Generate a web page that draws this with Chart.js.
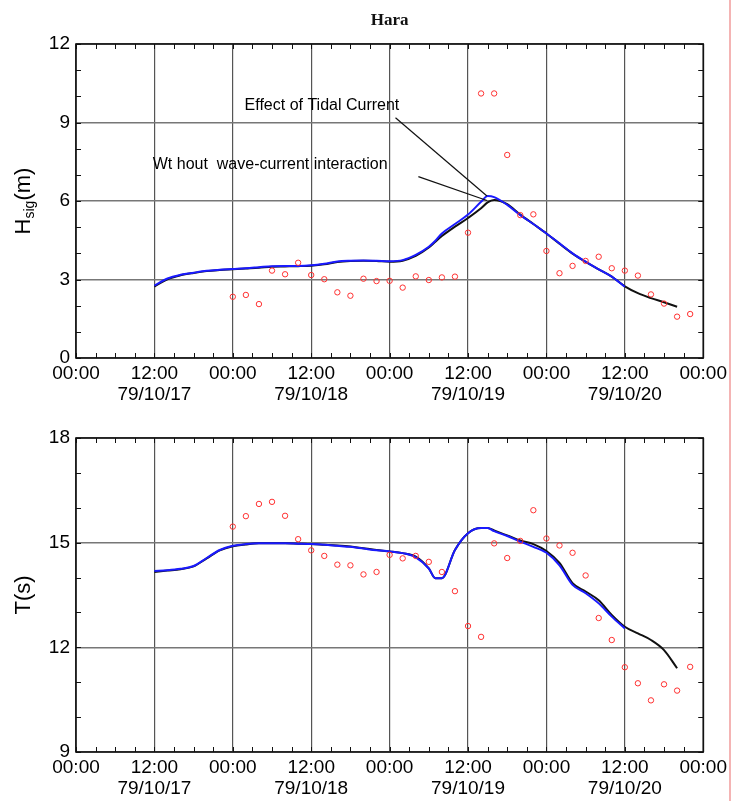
<!DOCTYPE html>
<html>
<head>
<meta charset="utf-8">
<script src="https://cdn.jsdelivr.net/npm/chart.js@4"></script>
<style>
  body { margin: 0; background: #fff; }
  #wrap { position: relative; width: 732px; height: 801px; }
  #c1 { position: absolute; left: 0; top: 0; }
  #c2 { position: absolute; left: 0; top: 405px; }
  #edge { position: absolute; left: 729px; top: 0; width: 2px; height: 801px; background: #f4b4b4; }
</style>
</head>
<body>
<div id="wrap">
  <canvas id="c1" width="732" height="405"></canvas>
  <canvas id="c2" width="732" height="396"></canvas>
  <div id="edge"></div>
</div>
<script>
'use strict';

// time axis: hours after 79/10/17 00:00
var tickHours = [0, 12, 24, 36, 48, 60, 72, 84, 96];
var tickTimes = ['00:00', '12:00', '00:00', '12:00', '00:00', '12:00', '00:00', '12:00', '00:00'];
var tickDates = ['', '79/10/17', '', '79/10/18', '', '79/10/19', '', '79/10/20', ''];

// observations (every 2 h)
var obsHours = [24, 26, 28, 30, 32, 34, 36, 38, 40, 42, 44, 46, 48, 50, 52, 54, 56, 58,
  60, 62, 64, 66, 68, 70, 72, 74, 76, 78, 80, 82, 84, 86, 88, 90, 92, 94];
var obsHsig = [2.34, 2.41, 2.06, 3.34, 3.20, 3.64, 3.17, 3.01, 2.51, 2.38, 3.03, 2.94, 2.95, 2.69, 3.12, 2.98, 3.08, 3.11,
  4.79, 10.11, 10.11, 7.76, 5.46, 5.49, 4.09, 3.24, 3.52, 3.71, 3.87, 3.43, 3.34, 3.15, 2.43, 2.08, 1.58, 1.68];
var obsT = [15.46, 15.76, 16.11, 16.17, 15.77, 15.10, 14.78, 14.62, 14.37, 14.35, 14.09, 14.16, 14.65, 14.55, 14.62, 14.45, 14.16, 13.61,
  12.61, 12.30, 14.98, 14.56, 15.05, 15.93, 15.12, 14.92, 14.71, 14.06, 12.84, 12.21, 11.43, 10.97, 10.48, 10.94, 10.76, 11.44];

// model hours
var modelHours = [12, 14, 16, 18, 20, 22, 24, 26, 28, 30, 32, 34, 36, 38, 40, 42, 44, 46, 48, 50,
  52, 54, 55, 56, 58, 60, 62, 63, 64, 66, 68, 70, 72, 74, 76, 78, 80, 82, 84, 86, 88, 90, 92];
var tidalHours = [12, 14, 16, 18, 20, 22, 24, 26, 28, 30, 32, 34, 36, 38, 40, 42, 44, 46, 48, 50,
  52, 54, 55, 56, 58, 60, 62, 63, 64, 66, 68, 70, 72, 74, 76, 78, 80, 82, 84];

// without wave-current interaction (black)
var noIntHsig = [2.73, 3.01, 3.16, 3.25, 3.32, 3.36, 3.39, 3.42, 3.45, 3.49, 3.50, 3.51, 3.53, 3.58, 3.67, 3.71, 3.72, 3.71, 3.68, 3.72,
  3.90, 4.22, 4.44, 4.66, 5.02, 5.35, 5.72, 5.95, 6.04, 5.88, 5.48, 5.12, 4.76, 4.37, 3.99, 3.67, 3.39, 3.11, 2.74, 2.48, 2.29, 2.13, 1.96];
var noIntT = [14.16, 14.20, 14.24, 14.32, 14.55, 14.78, 14.90, 14.95, 14.98, 14.98, 14.98, 14.97, 14.96, 14.94, 14.92, 14.89, 14.84, 14.79, 14.75, 14.70,
  14.60, 14.26, 13.98, 13.98, 14.79, 15.27, 15.42, 15.42, 15.35, 15.21, 15.06, 14.96, 14.76, 14.42, 13.84, 13.60, 13.35, 12.93, 12.59, 12.40, 12.21, 11.92, 11.40];

// effect of tidal current (blue)
var tidalHsig = [2.77, 3.04, 3.18, 3.26, 3.33, 3.37, 3.40, 3.43, 3.47, 3.51, 3.52, 3.52, 3.54, 3.60, 3.69, 3.72, 3.73, 3.72, 3.70, 3.74,
  3.94, 4.25, 4.48, 4.76, 5.12, 5.48, 5.97, 6.19, 6.15, 5.85, 5.46, 5.12, 4.76, 4.38, 4.00, 3.68, 3.39, 3.11, 2.72];
var tidalT = [14.19, 14.21, 14.25, 14.33, 14.56, 14.79, 14.91, 14.96, 14.98, 14.98, 14.98, 14.97, 14.96, 14.94, 14.91, 14.88, 14.83, 14.78, 14.75, 14.70,
  14.58, 14.26, 13.98, 13.98, 14.79, 15.27, 15.42, 15.42, 15.33, 15.19, 15.03, 14.88, 14.71, 14.35, 13.79, 13.55, 13.26, 12.88, 12.54];

// annotation text and leader lines (hour, value)
var noteTidal = { text: 'Effect of Tidal Current', at: [25.8, 9.63], from: [48.9, 9.18], to: [62.9, 6.19] };
var noteNoInt = { text: 'Wt hout  wave-current interaction', at: [11.75, 7.40], from: [52.4, 6.93], to: [62.9, 6.02] };

function pts(xs, ys) {
  return xs.map(function(x, i) { return { x: x, y: ys[i] }; });
}

var tickFont = { family: 'Liberation Sans, Arial, sans-serif', size: 19, lineHeight: 1.1 };

// frame, inner minor ticks, y title and notes
var framePlugin = {
  id: 'frame',
  afterDraw: function(chart) {
    var ctx = chart.ctx, a = chart.chartArea;
    var xs = chart.scales.x, ys = chart.scales.y;
    var o = chart.options.plugins.frame;
    ctx.save();
    ctx.strokeStyle = '#111';
    ctx.lineWidth = 1;
    var h, v, p;
    for (h = xs.min; h <= xs.max; h += 3) {
      p = Math.round(xs.getPixelForValue(h)) + 0.5;
      ctx.beginPath();
      ctx.moveTo(p, a.top); ctx.lineTo(p, a.top + 5);
      ctx.moveTo(p, a.bottom); ctx.lineTo(p, a.bottom - 5);
      ctx.stroke();
    }
    for (v = ys.min; v <= ys.max; v += 1) {
      p = Math.round(ys.getPixelForValue(v)) + 0.5;
      ctx.beginPath();
      ctx.moveTo(a.left, p); ctx.lineTo(a.left + 5, p);
      ctx.moveTo(a.right, p); ctx.lineTo(a.right - 5, p);
      ctx.stroke();
    }
    ctx.lineWidth = 1.6;
    ctx.strokeRect(a.left, a.top, a.right - a.left, a.bottom - a.top);

    // y title, rotated
    ctx.translate(24, (a.top + a.bottom) / 2);
    ctx.rotate(-Math.PI / 2);
    ctx.fillStyle = '#000';
    ctx.textBaseline = 'middle';
    var big = '22px Liberation Sans, Arial, sans-serif';
    var small = '14px Liberation Sans, Arial, sans-serif';
    var parts = o.title;
    var total = 0;
    parts.forEach(function(pt) { ctx.font = pt.sub ? small : big; total += ctx.measureText(pt.t).width; });
    var x = -total / 2;
    parts.forEach(function(pt) {
      ctx.font = pt.sub ? small : big;
      ctx.fillText(pt.t, x, pt.sub ? 6 : 0);
      x += ctx.measureText(pt.t).width;
    });
    ctx.restore();

    // notes
    (o.notes || []).forEach(function(n) {
      ctx.save();
      ctx.font = '16px Liberation Sans, Arial, sans-serif';
      ctx.fillStyle = '#000';
      ctx.textBaseline = 'middle';
      ctx.fillText(n.text, xs.getPixelForValue(n.at[0]), ys.getPixelForValue(n.at[1]));
      ctx.strokeStyle = '#111';
      ctx.lineWidth = 1.2;
      ctx.beginPath();
      ctx.moveTo(xs.getPixelForValue(n.from[0]), ys.getPixelForValue(n.from[1]));
      ctx.lineTo(xs.getPixelForValue(n.to[0]), ys.getPixelForValue(n.to[1]));
      ctx.stroke();
      ctx.restore();
    });
  }
};

function makeChart(id, cfg) {
  return new Chart(document.getElementById(id).getContext('2d'), {
    type: 'scatter',
    data: {
      datasets: [
        { data: pts(modelHours, cfg.noInt), showLine: true, borderColor: '#111', borderWidth: 2, pointRadius: 0, cubicInterpolationMode: 'monotone', order: 3 },
        { data: pts(tidalHours, cfg.tidal), showLine: true, borderColor: '#1a1aff', borderWidth: 2, pointRadius: 0, cubicInterpolationMode: 'monotone', order: 2 },
        { data: pts(obsHours, cfg.obs), showLine: false, pointRadius: 2.7, pointBorderWidth: 1, pointBorderColor: '#ff3030', pointBackgroundColor: 'rgba(0,0,0,0)', order: 1 }
      ]
    },
    options: {
      responsive: false,
      animation: false,
      events: [],
      layout: { padding: { top: cfg.padTop, right: 27, left: 0, bottom: 0 } },
      plugins: {
        legend: { display: false },
        tooltip: { enabled: false },
        title: cfg.titleText ? {
          display: true, fullSize: false, text: cfg.titleText, color: '#111',
          font: { family: 'Liberation Serif, Times New Roman, serif', size: 17, weight: 'bold', lineHeight: 1.2 },
          padding: { top: 10, bottom: 13.6 }
        } : { display: false },
        frame: { title: cfg.yTitle, notes: cfg.notes }
      },
      scales: {
        x: {
          type: 'linear', min: 0, max: 96,
          afterBuildTicks: function(s) { s.ticks = tickHours.map(function(h) { return { value: h }; }); },
          afterFit: function(s) { s.height = cfg.xHeight; },
          grid: { color: '#555', lineWidth: 1.2, drawTicks: false },
          border: { display: false },
          ticks: {
            autoSkip: false, maxRotation: 0, padding: 5, color: '#000', font: tickFont,
            callback: function(v) {
              var i = tickHours.indexOf(v);
              return tickDates[i] ? [tickTimes[i], tickDates[i]] : tickTimes[i];
            }
          }
        },
        y: {
          min: cfg.yMin, max: cfg.yMax,
          afterFit: function(s) { s.width = 76; },
          grid: { color: '#777', lineWidth: 1.5, drawTicks: false },
          border: { display: false },
          ticks: { stepSize: 3, padding: 6, color: '#000', font: tickFont }
        }
      }
    },
    plugins: [framePlugin]
  });
}

makeChart('c1', {
  noInt: noIntHsig, tidal: tidalHsig, obs: obsHsig,
  yMin: 0, yMax: 12, padTop: 0, xHeight: 47, titleText: 'Hara',
  yTitle: [{ t: 'H' }, { t: 'sig', sub: true }, { t: '(m)' }],
  notes: [noteTidal, noteNoInt]
});

makeChart('c2', {
  noInt: noIntT, tidal: tidalT, obs: obsT,
  yMin: 9, yMax: 18, padTop: 33, xHeight: 49, titleText: null,
  yTitle: [{ t: 'T(s)' }],
  notes: []
});
</script>
</body>
</html>
